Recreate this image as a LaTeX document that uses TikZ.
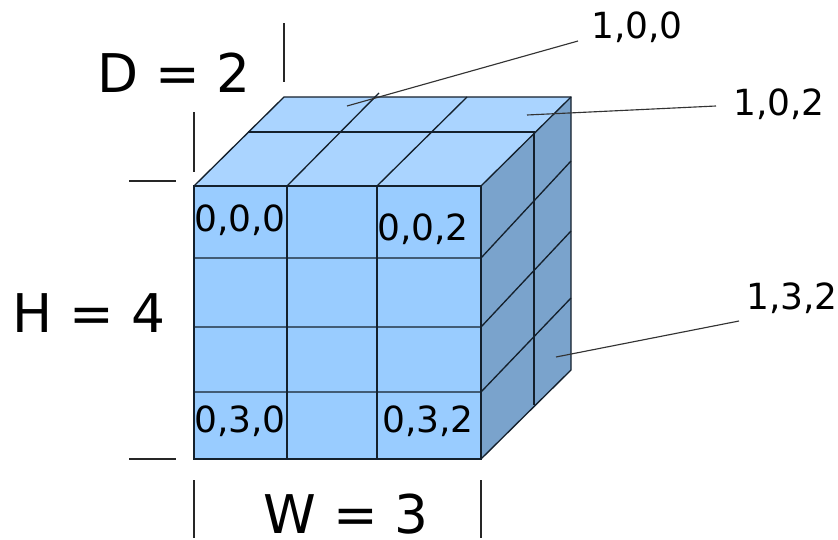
\documentclass[tikz,border=0pt]{standalone}
\usepackage{fontspec}
\setmainfont{DejaVu Sans}
\usepackage{xcolor}
\definecolor{frontblue}{HTML}{99CCFF}
\definecolor{topblue}{HTML}{AAD4FF}
\definecolor{sideblue}{HTML}{7AA3CC}
\definecolor{edgeblue}{HTML}{14202C}
\tikzset{
  gridline/.style={draw=edgeblue,line width=1pt},
  leader/.style={draw=black!80,line width=0.85pt},
  tick/.style={draw=black!85,line width=0.8pt},
  cell/.style={font=\fontsize{27}{27}\selectfont,inner sep=0pt,text=black},
  dimlabel/.style={font=\fontsize{40}{40}\selectfont,inner sep=0pt,text=black}
}
\begin{document}
\begin{tikzpicture}[x=0.75pt,y=-0.75pt]
\useasboundingbox (0,0) rectangle (838,539);
\fill[white] (0,0) rectangle (838,539);
\fill[frontblue] (194,186) rectangle (481,459);
\fill[topblue] (194,186) -- (284,97) -- (571,97) -- (481,186) -- cycle;
\fill[sideblue] (481,186) -- (571,97) -- (571,370) -- (481,459) -- cycle;
\draw[gridline] (194,186) rectangle (481,459);
\draw[gridline] (194,186) -- (284,97) -- (571,97) -- (571,370) -- (481,459);
\draw[gridline] (481,186) -- (571,97);
\draw[gridline] (287,186) -- (287,459);
\draw[gridline] (377,186) -- (377,459);
\draw[gridline] (194,258) -- (481,258) -- (571,161);
\draw[gridline] (194,327) -- (481,327) -- (571,231);
\draw[gridline] (194,392) -- (481,392) -- (571,298);
\draw[gridline] (287,186) -- (379,93);
\draw[gridline] (377,186) -- (467,97);
\draw[gridline] (248,132) -- (534,132) -- (534,405);
% cell labels
\node[cell] (c000) at (240,220) {0,0,0};
\node[cell] (c002) at (423,229) {0,0,2};
\node[cell] (c030) at (240,421) {0,3,0};
\node[cell] (c032) at (428,421) {0,3,2};
% leaders
\node[cell,anchor=west] (c100) at (591,27) {1,0,0};
\node[cell,anchor=west] (c102) at (733,104) {1,0,2};
\node[cell,anchor=west] (c132) at (746,298) {1,3,2};
\coordinate (p100) at (347,106);
\coordinate (q100) at (578,41);
\coordinate (p102) at (527,115);
\coordinate (q102) at (716,106);
\coordinate (p132) at (556,357);
\coordinate (q132) at (739,321);
\draw[leader] (p100) -- (q100);
\draw[leader] (p102) -- (q102);
\draw[leader] (p132) -- (q132);
% dimensions
\node[dimlabel] (depth) at (174,73) {D = 2};
\node[dimlabel] (height) at (89,313) {H = 4};
\node[dimlabel] (width) at (346,514) {W = 3};
\coordinate (d1a) at (284,23); \coordinate (d1b) at (284,82);
\coordinate (d2a) at (194,112); \coordinate (d2b) at (194,172);
\coordinate (h1a) at (129,181); \coordinate (h1b) at (176,181);
\coordinate (h2a) at (129,459); \coordinate (h2b) at (176,459);
\coordinate (w1a) at (194,480); \coordinate (w1b) at (194,538);
\coordinate (w2a) at (481,480); \coordinate (w2b) at (481,538);
\draw[tick] (d1a) -- (d1b);
\draw[tick] (d2a) -- (d2b);
\draw[tick] (h1a) -- (h1b);
\draw[tick] (h2a) -- (h2b);
\draw[tick] (w1a) -- (w1b);
\draw[tick] (w2a) -- (w2b);
\end{tikzpicture}
\end{document}
